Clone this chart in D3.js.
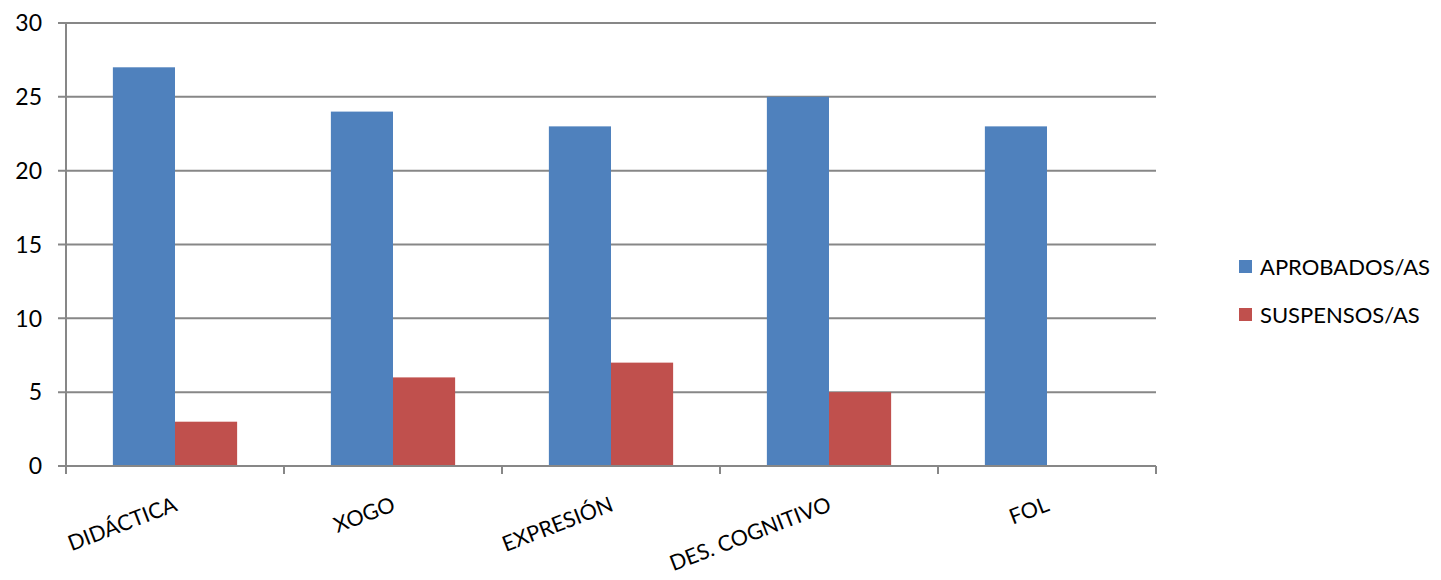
<!DOCTYPE html>
<html>
<head>
<meta charset="utf-8">
<script src="https://cdn.jsdelivr.net/npm/d3@7"></script>
<style>
  html, body { margin: 0; padding: 0; background: #fff; }
  svg { display: block; font-family: Lato, "Open Sans", sans-serif; }
</style>
</head>
<body>
<svg id="chart" width="1441" height="580"></svg>
<script>
const categories = ["DIDÁCTICA", "XOGO", "EXPRESIÓN", "DES. COGNITIVO", "FOL"];
const seriesNames = ["APROBADOS/AS", "SUSPENSOS/AS"];
const aprobados = [27, 24, 23, 25, 23];
const suspensos = [3, 6, 7, 5, 0];
const yTicks = [0, 5, 10, 15, 20, 25, 30];
const colors = ["#4F81BD", "#C0504D"];

(function () {
const seriesValues = [aprobados, suspensos];
const svg = d3.select("#chart");
const mLeft = 66, mRight = 1156, mTop = 23, mBottom = 466;

const x = d3.scaleBand().domain(categories).range([mLeft, mRight])
  .paddingInner(0.43).paddingOuter(0.215);
const xSub = d3.scaleBand().domain(seriesNames).range([0, x.bandwidth()]);
const y = d3.scaleLinear().domain([0, 30]).range([mBottom, mTop]);
const xCat = d3.scaleBand().domain(categories).range([mLeft, mRight]).padding(0);

// gridlines
svg.append("g").selectAll("line").data(yTicks.filter(d => d > 0)).join("line")
  .attr("x1", mLeft - 8).attr("x2", mRight)
  .attr("y1", d => y(d)).attr("y2", d => y(d))
  .attr("stroke", "#878787").attr("stroke-width", 2);

// bars
const rows = categories.map((c, i) => ({ c, vals: seriesNames.map((s, j) => ({ s, v: seriesValues[j][i], j })) }));
const g = svg.append("g").selectAll("g").data(rows).join("g")
  .attr("transform", d => `translate(${x(d.c)},0)`);
g.selectAll("rect").data(d => d.vals.filter(v => v.v > 0)).join("rect")
  .attr("x", d => xSub(d.s)).attr("width", xSub.bandwidth())
  .attr("y", d => y(d.v)).attr("height", d => y(0) - y(d.v))
  .attr("fill", d => colors[d.j]);

// axes
svg.append("line").attr("x1", mLeft).attr("x2", mLeft).attr("y1", mTop).attr("y2", mBottom)
  .attr("stroke", "#878787").attr("stroke-width", 2);
svg.append("line").attr("x1", mLeft - 8).attr("x2", mRight).attr("y1", mBottom).attr("y2", mBottom)
  .attr("stroke", "#878787").attr("stroke-width", 2);
svg.append("g").selectAll("text").data(yTicks).join("text")
  .attr("x", 42).attr("y", d => y(d)).attr("dy", "0.36em")
  .attr("text-anchor", "end").attr("font-size", 23).attr("fill", "#000")
  .text(d => d);

// x ticks
const boundaries = categories.map(c => xCat(c)).concat([mRight]);
svg.append("g").selectAll("line").data(boundaries).join("line")
  .attr("x1", d => d).attr("x2", d => d).attr("y1", mBottom).attr("y2", mBottom + 8)
  .attr("stroke", "#878787").attr("stroke-width", 2);

// x labels
svg.append("g").selectAll("text").data(categories).join("text")
  .attr("transform", d => `translate(${xCat(d) + xCat.bandwidth() / 2 - 2},${mBottom + 30}) rotate(-21)`)
  .attr("text-anchor", "end").attr("dy", "0.71em")
  .attr("font-size", 21.5).attr("fill", "#000")
  .text(d => d);

// legend
const leg = svg.append("g").selectAll("g").data(seriesNames).join("g")
  .attr("transform", (d, i) => `translate(1239,${260 + i * 48})`);
leg.append("rect").attr("width", 13).attr("height", 13).attr("fill", (d, i) => colors[i]);
leg.append("text").attr("x", 21).attr("y", 7).attr("dy", "0.36em")
  .attr("font-size", 22).attr("fill", "#000").text(d => d);
})();
</script>
</body>
</html>
